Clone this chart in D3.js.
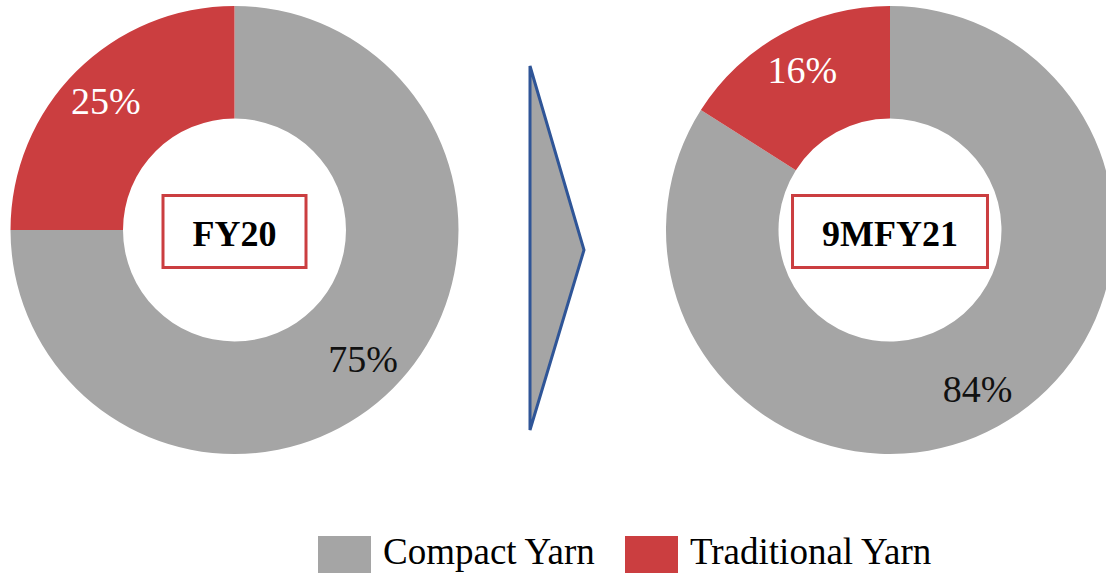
<!DOCTYPE html>
<html>
<head>
<meta charset="utf-8">
<script src="https://cdn.jsdelivr.net/npm/d3@7"></script>
<style>
  html, body { margin: 0; padding: 0; background: #fff; }
  svg { display: block; }
</style>
</head>
<body>
<svg id="chart" width="1106" height="573"></svg>
<script>
const categories = ["Compact Yarn", "Traditional Yarn"];
const periods = ["FY20", "9MFY21"];
const compactYarn = [75, 84];
const traditionalYarn = [25, 16];
const colors = ["#a5a5a5", "#cb3e40"];

const svg = d3.select("#chart");
const font = "'Liberation Serif', 'Times New Roman', serif";

const centers = [ {x: 234.5, y: 230}, {x: 890, y: 230} ];
const outerR = 224, innerR = 111.5, labelR = 182;

const pie = d3.pie().sort(null).value(d => d.value).startAngle(0).endAngle(2 * Math.PI);
const arc = d3.arc().innerRadius(innerR).outerRadius(outerR);
const labelArc = d3.arc().innerRadius(labelR).outerRadius(labelR);
const color = d3.scaleOrdinal().domain(categories).range(colors);

periods.forEach((p, i) => {
  const data = [
    {cat: categories[0], value: compactYarn[i]},
    {cat: categories[1], value: traditionalYarn[i]}
  ];
  const g = svg.append("g").attr("transform", `translate(${centers[i].x},${centers[i].y})`);
  const arcs = pie(data);
  g.selectAll("path").data(arcs).join("path")
    .attr("d", arc)
    .attr("fill", d => color(d.data.cat));
  g.selectAll("text.lbl").data(arcs).join("text")
    .attr("class", "lbl")
    .attr("transform", d => `translate(${labelArc.centroid(d)})`)
    .attr("text-anchor", "middle")
    .attr("dy", "0.34em")
    .attr("font-family", font)
    .attr("font-size", 38)
    .attr("fill", d => d.data.cat === categories[1] ? "#ffffff" : "#111111")
    .text(d => d.data.value + "%");

  const t = g.append("text")
    .attr("text-anchor", "middle")
    .attr("x", 0)
    .attr("y", 16)
    .attr("font-family", font)
    .attr("font-weight", "bold")
    .attr("font-size", 36)
    .attr("fill", "#000")
    .text(p);
  const tw = t.node().getComputedTextLength();
  const bw = tw + 59, bh = 72;
  g.insert("rect", "text")
    .attr("x", -bw / 2)
    .attr("y", 1.5 - bh / 2)
    .attr("width", bw)
    .attr("height", bh)
    .attr("fill", "#fff")
    .attr("stroke", "#cb3e40")
    .attr("stroke-width", 3);
});

const arrowPts = [[530, 66], [584, 250], [530, 430]];
svg.append("path")
  .attr("d", d3.line()(arrowPts) + "Z")
  .attr("fill", "#a5a5a5")
  .attr("stroke", "#2f5597")
  .attr("stroke-width", 3)
  .attr("stroke-linejoin", "miter");

const legendItems = [
  {cat: categories[0], x: 318},
  {cat: categories[1], x: 625}
];
const lg = svg.append("g");
legendItems.forEach(it => {
  lg.append("rect")
    .attr("x", it.x).attr("y", 536)
    .attr("width", 53).attr("height", 53)
    .attr("fill", color(it.cat));
  lg.append("text")
    .attr("x", it.x + 65).attr("y", 564)
    .attr("font-family", font)
    .attr("font-size", 37)
    .attr("fill", "#000")
    .text(it.cat);
});
</script>
</body>
</html>
